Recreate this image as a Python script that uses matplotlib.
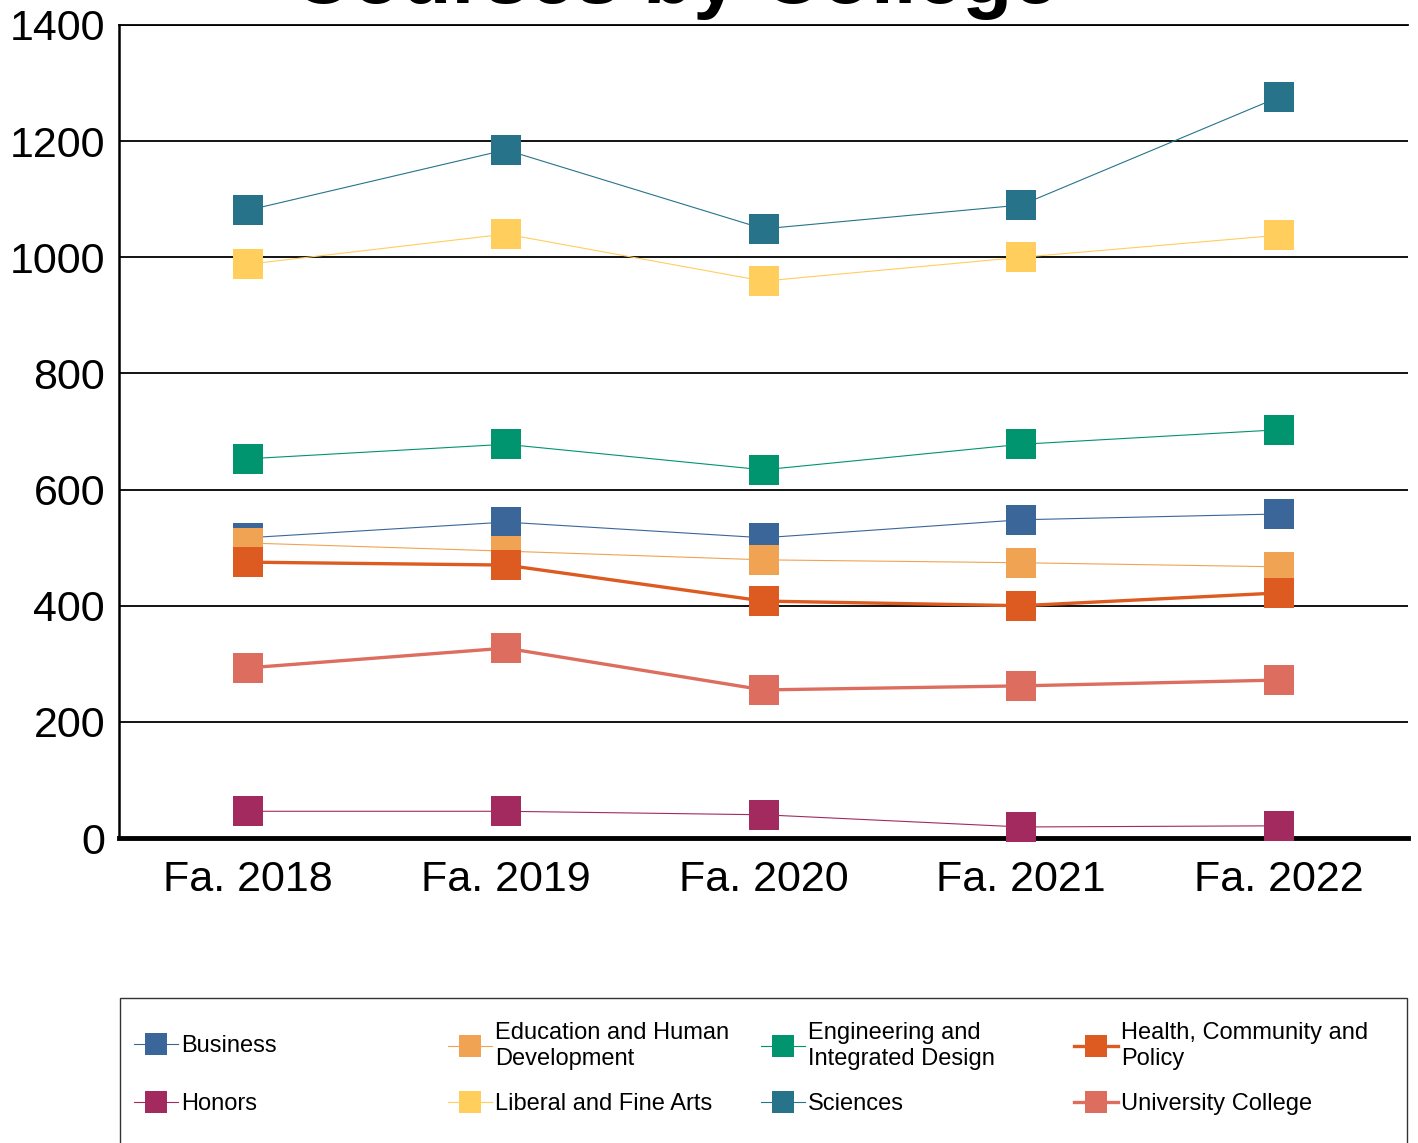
import matplotlib
matplotlib.use('Agg')
import matplotlib.pyplot as plt
from matplotlib.patches import Rectangle

plt.rcParams['font.family'] = ['Liberation Sans', 'DejaVu Sans']

terms = ['Fa. 2018', 'Fa. 2019', 'Fa. 2020', 'Fa. 2021', 'Fa. 2022']

business = [517, 544, 517, 548, 558]
education = [508, 494, 479, 474, 467]
engineering = [653, 678, 634, 678, 703]
health = [475, 470, 408, 400, 422]
honors = [46, 46, 40, 19, 21]
liberal_arts = [988, 1040, 959, 1000, 1038]
sciences = [1081, 1185, 1049, 1090, 1276]
university_college = [293, 327, 255, 262, 272]

series = [
    ('Business', business, '#3A6699', 0.8),
    ('Education and Human\nDevelopment', education, '#F0A353', 0.8),
    ('Engineering and\nIntegrated Design', engineering, '#00946F', 0.8),
    ('Health, Community and\nPolicy', health, '#DD5A20', 2.4),
    ('Honors', honors, '#A32A5F', 0.8),
    ('Liberal and Fine Arts', liberal_arts, '#FFCE5D', 0.8),
    ('Sciences', sciences, '#27748A', 0.8),
    ('University College', university_college, '#DD6D5E', 2.4),
]

fig = plt.figure(figsize=(14.18, 11.43), dpi=100)
ax = fig.add_axes([119 / 1418, 1 - 838 / 1143, 1289 / 1418, 813 / 1143])

x = [i + 0.5 for i in range(len(terms))]
for name, vals, color, lw in series:
    ax.plot(x, vals, color=color, lw=lw, marker='s', markersize=21.5,
            markeredgewidth=0, label=name, clip_on=False, zorder=3)

ax.set_xlim(0, len(terms))
ax.set_ylim(0, 1400)
ax.set_yticks(range(0, 1401, 200))
ax.set_xticks(x)
ax.set_xticklabels(terms)
ax.tick_params(axis='both', length=0, labelsize=31)
ax.tick_params(axis='x', pad=16)
ax.tick_params(axis='y', pad=10)
ax.grid(axis='y', color='black', lw=1.3)
ax.set_axisbelow(True)
ax.spines['right'].set_visible(False)
ax.spines['top'].set_linewidth(1.3)
ax.spines['left'].set_linewidth(1.8)
ax.spines['bottom'].set_linewidth(3.5)

fig.text(0.476, 1 - 3 / 1143, 'Courses by College', ha='center', va='baseline',
         fontsize=59, fontweight='bold')

# legend frame (cut off at the bottom of the image)
fig.patches.append(Rectangle((120 / 1418, -0.05), 1287 / 1418, 0.05 + 145 / 1143,
                             transform=fig.transFigure, fill=False,
                             edgecolor='#333333', lw=1.0))

# one small legend per entry so the 4x2 grid lines up like the original
col_x = [134, 448, 761, 1074]
row_y = [1046, 1104]
handles, labels = ax.get_legend_handles_labels()
for i, (h, l) in enumerate(zip(handles, labels)):
    fig.legend([h], [l], loc='center left',
               bbox_to_anchor=(col_x[i % 4] / 1418, 1 - row_y[i // 4] / 1143),
               frameon=False, fontsize=17, markerscale=0.75,
               handlelength=1.85, handletextpad=0.15, borderpad=0,
               borderaxespad=0)

fig.savefig('out.png', dpi=100)
